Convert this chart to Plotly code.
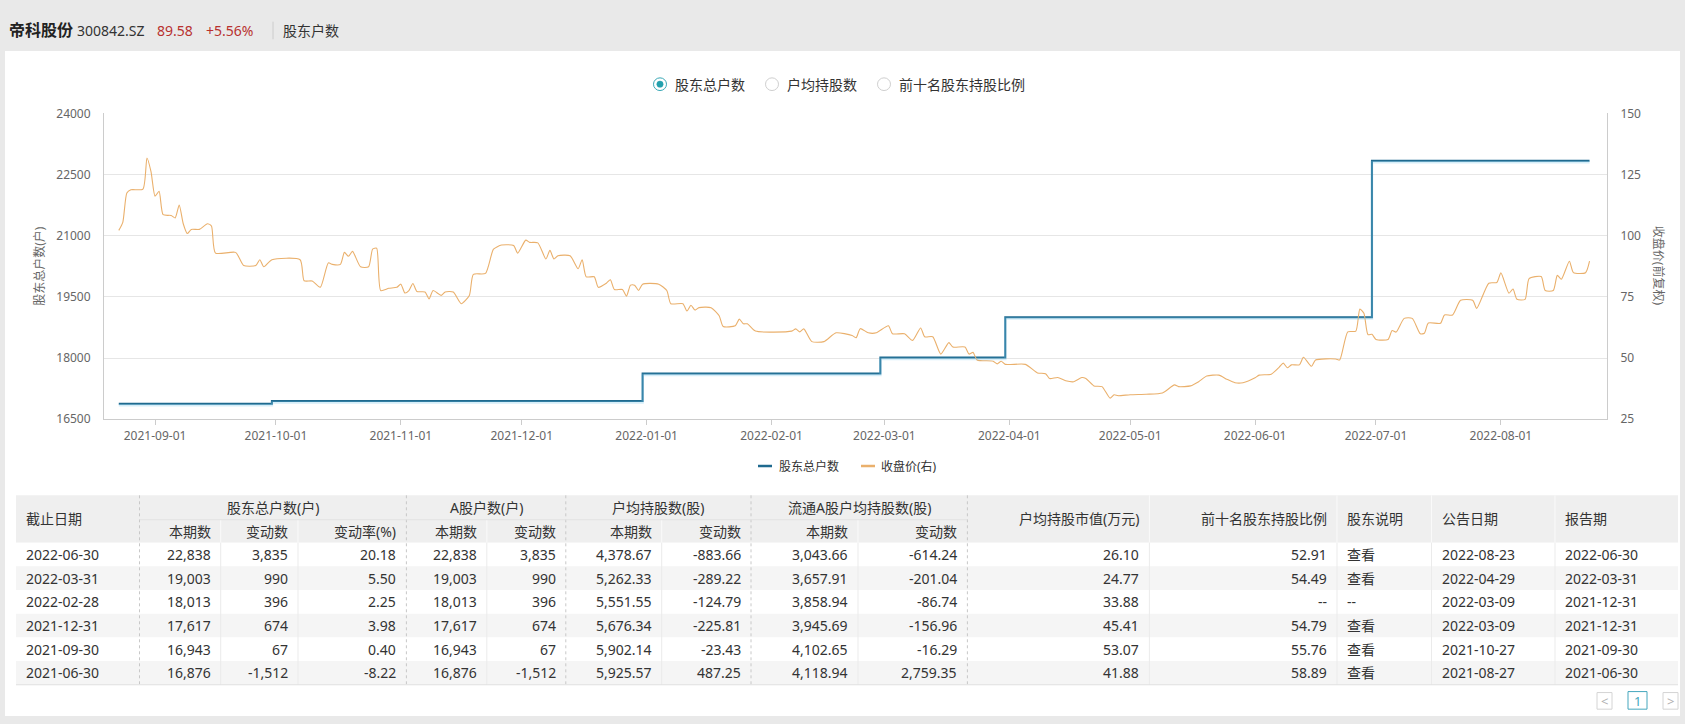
import plotly.graph_objects as go

W, H = 1685, 724

# ---------------- data ----------------
price_dates = [
    "2021-08-23", "2021-08-24", "2021-08-25", "2021-08-26", "2021-08-29", "2021-08-30", "2021-08-31",
    "2021-09-01", "2021-09-02", "2021-09-03", "2021-09-05", "2021-09-06", "2021-09-07", "2021-09-08",
    "2021-09-09", "2021-09-10", "2021-09-12", "2021-09-14", "2021-09-15", "2021-09-16", "2021-09-21",
    "2021-09-23", "2021-09-26", "2021-09-27", "2021-09-28", "2021-09-30",
    "2021-10-07", "2021-10-08", "2021-10-10", "2021-10-12", "2021-10-14", "2021-10-15", "2021-10-17",
    "2021-10-18", "2021-10-19", "2021-10-20", "2021-10-22", "2021-10-24", "2021-10-25", "2021-10-26",
    "2021-10-27", "2021-10-29", "2021-10-31",
    "2021-11-01", "2021-11-02", "2021-11-03", "2021-11-04", "2021-11-05", "2021-11-07", "2021-11-08",
    "2021-11-09", "2021-11-11", "2021-11-12", "2021-11-14", "2021-11-16", "2021-11-18", "2021-11-19",
    "2021-11-22", "2021-11-24", "2021-11-26", "2021-11-29", "2021-11-30",
    "2021-12-02", "2021-12-03", "2021-12-05", "2021-12-07", "2021-12-08", "2021-12-09", "2021-12-10",
    "2021-12-13", "2021-12-15", "2021-12-16", "2021-12-17", "2021-12-19", "2021-12-20", "2021-12-22",
    "2021-12-23", "2021-12-24", "2021-12-26", "2021-12-27", "2021-12-28", "2021-12-29", "2021-12-30",
    "2021-12-31",
    "2022-01-04", "2022-01-06", "2022-01-07", "2022-01-10", "2022-01-11", "2022-01-12", "2022-01-13",
    "2022-01-14", "2022-01-17", "2022-01-19", "2022-01-20", "2022-01-23", "2022-01-24", "2022-01-25",
    "2022-01-26", "2022-01-28",
    "2022-02-06", "2022-02-07", "2022-02-08", "2022-02-09", "2022-02-11", "2022-02-14", "2022-02-17",
    "2022-02-21", "2022-02-22", "2022-02-23", "2022-02-25", "2022-02-27",
    "2022-03-02", "2022-03-03", "2022-03-06", "2022-03-08", "2022-03-10", "2022-03-11", "2022-03-13",
    "2022-03-15", "2022-03-17", "2022-03-18", "2022-03-21", "2022-03-22", "2022-03-23", "2022-03-24",
    "2022-03-28", "2022-03-29", "2022-03-30", "2022-03-31",
    "2022-04-05", "2022-04-08", "2022-04-10", "2022-04-11", "2022-04-13", "2022-04-15", "2022-04-17",
    "2022-04-19", "2022-04-20", "2022-04-22", "2022-04-24", "2022-04-26", "2022-04-27", "2022-04-28",
    "2022-05-01", "2022-05-05", "2022-05-09", "2022-05-12", "2022-05-13", "2022-05-16", "2022-05-18",
    "2022-05-20", "2022-05-23", "2022-05-25", "2022-05-27", "2022-05-29",
    "2022-06-01", "2022-06-02", "2022-06-05", "2022-06-07", "2022-06-08", "2022-06-09", "2022-06-10",
    "2022-06-12", "2022-06-13", "2022-06-15", "2022-06-16", "2022-06-21", "2022-06-22", "2022-06-24",
    "2022-06-26", "2022-06-27", "2022-06-28", "2022-06-29", "2022-06-30",
    "2022-07-01", "2022-07-04", "2022-07-05", "2022-07-06", "2022-07-08", "2022-07-10", "2022-07-12",
    "2022-07-13", "2022-07-14", "2022-07-17", "2022-07-18", "2022-07-20", "2022-07-22", "2022-07-25",
    "2022-07-26", "2022-07-29", "2022-07-31",
    "2022-08-01", "2022-08-03", "2022-08-04", "2022-08-05", "2022-08-07", "2022-08-08", "2022-08-11",
    "2022-08-12", "2022-08-14", "2022-08-15", "2022-08-16", "2022-08-18", "2022-08-19", "2022-08-22",
    "2022-08-23",
]
price_vals = [
    102.2, 105.5, 117.5, 118.8, 119.1, 131.8, 126.2,
    116.2, 118.2, 108.6, 108.3, 107.3, 112.6, 104.9, 100.9, 102.6, 102.6, 104.9, 104.0, 92.9, 93.2,
    87.8, 87.8, 90.2, 87.3, 90.2,
    90.2, 81.6, 81.5, 78.9, 88.9, 88.3, 88.3, 93.2, 91.6, 93.6, 87.3, 87.3, 94.5, 94.9, 77.6, 78.5, 78.9,
    80.2, 76.6, 77.6, 80.5, 77.2, 77.0, 74.2, 77.6, 75.6, 77.0, 77.0, 72.2, 75.6, 84.2, 84.6, 94.5,
    96.2, 96.0, 92.9,
    98.2, 97.3, 97.1, 90.5, 94.0, 90.5, 91.8, 91.8, 86.5, 90.2, 83.2, 83.2, 78.9, 80.6, 82.0, 78.0,
    78.0, 75.3, 79.8, 79.8, 77.6, 80.2,
    80.2, 77.6, 72.2, 72.2, 69.2, 71.6, 69.6, 70.6, 70.6, 67.3, 62.9, 63.2, 65.9, 64.0, 64.0, 61.0,
    61.0, 61.9, 60.7, 61.9, 56.7, 56.7, 60.3, 59.2, 58.3, 62.0, 60.3, 60.3,
    63.2, 59.9, 59.9, 57.2, 62.3, 58.7, 58.7, 51.6, 56.3, 54.5, 54.5, 51.6, 52.3, 49.2, 48.7, 47.6,
    48.7, 47.4,
    47.4, 43.9, 43.6, 41.6, 42.0, 40.7, 40.3, 42.0, 41.6, 38.6, 38.3, 33.6, 35.0, 34.6,
    35.0, 35.2, 35.7, 39.0, 38.3, 38.6, 40.3, 42.6, 43.0, 41.3, 39.9, 39.9,
    41.9, 43.0, 43.4, 46.3, 47.9, 46.0, 47.2, 47.2, 50.3, 46.6, 49.2, 49.6, 49.2, 60.7, 61.0, 70.0,
    68.3, 59.6, 59.7,
    57.6, 57.6, 61.2, 60.6, 66.2, 66.2, 59.9, 60.1, 64.3, 64.2, 67.6, 67.6, 73.6, 73.6, 70.3, 80.6, 80.9,
    84.8, 76.5, 78.2, 74.0, 74.0, 82.5, 83.3, 77.6, 77.6, 83.8, 82.2, 89.6, 84.9, 84.86, 89.58,
]

period_end = ["2022-06-30", "2022-03-31", "2022-02-28", "2021-12-31", "2021-09-30", "2021-06-30"]
holders = [22838, 19003, 18013, 17617, 16943, 16876]
holders_chg = [3835, 990, 396, 674, 67, -1512]
holders_chg_pct = [20.18, 5.50, 2.25, 3.98, 0.40, -8.22]
a_holders = [22838, 19003, 18013, 17617, 16943, 16876]
a_holders_chg = [3835, 990, 396, 674, 67, -1512]
avg_shares = [4378.67, 5262.33, 5551.55, 5676.34, 5902.14, 5925.57]
avg_shares_chg = [-883.66, -289.22, -124.79, -225.81, -23.43, 487.25]
float_avg_shares = [3043.66, 3657.91, 3858.94, 3945.69, 4102.65, 4118.94]
float_avg_shares_chg = [-614.24, -201.04, -86.74, -156.96, -16.29, 2759.35]
avg_value = [26.10, 24.77, 33.88, 45.41, 53.07, 41.88]
top10_ratio = [52.91, 54.49, None, 54.79, 55.76, 58.89]
holder_note = ["查看", "查看", "--", "查看", "查看", "查看"]
announce_date = ["2022-08-23", "2022-04-29", "2022-03-09", "2022-03-09", "2021-10-27", "2021-08-27"]
report_period = ["2022-06-30", "2022-03-31", "2021-12-31", "2021-12-31", "2021-09-30", "2021-06-30"]

x_tick_vals = ["2021-09-01", "2021-10-01", "2021-11-01", "2021-12-01", "2022-01-01", "2022-02-01",
               "2022-03-01", "2022-04-01", "2022-05-01", "2022-06-01", "2022-07-01", "2022-08-01"]
x_tick_text = list(x_tick_vals)
y_left_ticks = [16500, 18000, 19500, 21000, 22500, 24000]
y_right_ticks = [25, 50, 75, 100, 125, 150]

assert len(price_dates) == len(price_vals)

# ---------------- helpers ----------------
FONT = "Noto Sans, Noto Sans CJK SC, sans-serif"


def px(x):
    return x / W


def py(y):
    return 1 - y / H


shapes = []
annotations = []


def rect(x0, y0, x1, y1, fill=None, line=None, lw=1, dash=None, layer="below"):
    d = dict(type="rect", xref="paper", yref="paper", x0=px(x0), x1=px(x1), y0=py(y1), y1=py(y0),
             layer=layer, line=dict(width=0))
    if fill:
        d["fillcolor"] = fill
    if line:
        d["line"] = dict(color=line, width=lw)
        if dash:
            d["line"]["dash"] = dash
    shapes.append(d)


def seg(x0, y0, x1, y1, color, lw=1, dash=None, layer="above"):
    ln = dict(color=color, width=lw)
    if dash:
        ln["dash"] = dash
    shapes.append(dict(type="line", xref="paper", yref="paper", x0=px(x0), x1=px(x1),
                       y0=py(y0), y1=py(y1), line=ln, layer=layer))


def circle(cx, cy, r, fill, line, lw=1):
    shapes.append(dict(type="circle", xref="paper", yref="paper", x0=px(cx - r), x1=px(cx + r),
                       y0=py(cy + r), y1=py(cy - r), fillcolor=fill, line=dict(color=line, width=lw),
                       layer="above"))


def txt(x, y, s, size=14, color="#333", anchor="left", angle=0, family=FONT):
    annotations.append(dict(x=px(x), y=py(y), xref="paper", yref="paper", text=s, showarrow=False,
                            xanchor=anchor, yanchor="middle", textangle=angle,
                            font=dict(size=size, color=color, family=family), borderpad=0))


def fmt_int(v):
    return f"{v:,}"


def fmt_f(v):
    return "--" if v is None else f"{v:,.2f}"


# ---------------- page frame ----------------
rect(5, 43, 1680, 724, fill="white")

# header bar
txt(8, 22, "<b>帝科股份</b>", size=16, color="#222")
txt(76, 22, "300842.SZ", size=14, color="#333")
txt(156, 22, "89.58", size=14, color="#b8312f")
txt(205, 22, "+5.56%", size=14, color="#b8312f")
seg(273, 13, 273, 31, "#cccccc")
txt(282, 22, "股东户数", size=14, color="#333")

# radio selector
radio = [(660, "股东总户数", True), (772, "户均持股数", False), (884, "前十名股东持股比例", False)]
for cx, label, on in radio:
    if on:
        circle(cx, 77, 6.5, "white", "#38a7b5", 1)
        circle(cx, 77, 3.2, "#23a0ad", "#23a0ad", 0.5)
    else:
        circle(cx, 77, 6.5, "white", "#cfcfcf", 1)
    txt(cx + 14, 77, label, size=14, color="#333")

# axis titles
txt(40, 263, "股东总户数(户)", size=12, color="#666", anchor="center", angle=-90)
txt(1658, 263, "收盘价(前复权)", size=12, color="#666", anchor="center", angle=90)

# bottom legend
seg(758, 468, 772, 468, "#1f6a8f", lw=2.5)
txt(778, 468, "股东总户数", size=12, color="#333")
seg(861, 468, 875, 468, "#eab06c", lw=2.5)
txt(880, 468, "收盘价(右)", size=12, color="#333")

# ---------------- table ----------------
cols = [16, 139.5, 220.7, 298, 406.4, 486.8, 565.8, 661.7, 751, 858, 967.4, 1149.4, 1337, 1431.5, 1555, 1678]
T_TOP, T_MID, T_HEAD = 498, 523, 546.5
ROW_H = 24.25
n_rows = len(period_end)
T_BOT = T_HEAD + ROW_H * n_rows

rect(cols[0], T_TOP, cols[-1], T_HEAD, fill="#efefef")
for i in range(n_rows):
    y0 = T_HEAD + i * ROW_H
    rect(cols[0], y0, cols[-1], y0 + ROW_H, fill="white" if i % 2 == 0 else "#f5f5f5")

for xs in [cols[2], cols[3], cols[5], cols[7], cols[9]]:
    seg(xs, T_MID, xs, T_HEAD, "#fafafa", layer="below")
    seg(xs, T_HEAD, xs, T_BOT, "#ebebeb", layer="below")
for xs in [cols[11], cols[12], cols[13], cols[14]]:
    seg(xs, T_TOP, xs, T_HEAD, "#fafafa", layer="below")
    seg(xs, T_HEAD, xs, T_BOT, "#ebebeb", layer="below")
for xs in [cols[1], cols[4], cols[6], cols[8], cols[10]]:
    seg(xs, T_TOP, xs, T_BOT, "#c8c8c8", dash="dot", layer="below")
seg(cols[1], T_MID, cols[10], T_MID, "#e2e2e2", layer="below")
seg(cols[0], T_BOT, cols[-1], T_BOT, "#e0e0e0", layer="below")

PAD = 9
TS = 14
yh1 = (T_TOP + T_MID) / 2
yh2 = (T_MID + T_HEAD) / 2
yhc = (T_TOP + T_HEAD) / 2
txt(cols[0] + PAD, yhc, "截止日期", size=TS)
groups = [("股东总户数(户)", 1, 4), ("A股户数(户)", 4, 6), ("户均持股数(股)", 6, 8), ("流通A股户均持股数(股)", 8, 10)]
for label, a, b in groups:
    txt((cols[a] + cols[b]) / 2, yh1, label, size=TS, anchor="center")
sub = ["本期数", "变动数", "变动率(%)", "本期数", "变动数", "本期数", "变动数", "本期数", "变动数"]
for k, label in enumerate(sub):
    txt(cols[k + 2] - PAD, yh2, label, size=TS, anchor="right")
txt(cols[11] - PAD, yhc, "户均持股市值(万元)", size=TS, anchor="right")
txt(cols[12] - PAD, yhc, "前十名股东持股比例", size=TS, anchor="right")
txt(cols[12] + PAD, yhc, "股东说明", size=TS)
txt(cols[13] + PAD, yhc, "公告日期", size=TS)
txt(cols[14] + PAD, yhc, "报告期", size=TS)

for i in range(n_rows):
    yc = T_HEAD + (i + 0.5) * ROW_H
    txt(cols[0] + PAD, yc, period_end[i], size=TS)
    right_vals = [fmt_int(holders[i]), fmt_int(holders_chg[i]), f"{holders_chg_pct[i]:.2f}",
                  fmt_int(a_holders[i]), fmt_int(a_holders_chg[i]),
                  fmt_f(avg_shares[i]), fmt_f(avg_shares_chg[i]),
                  fmt_f(float_avg_shares[i]), fmt_f(float_avg_shares_chg[i]),
                  fmt_f(avg_value[i]), fmt_f(top10_ratio[i])]
    for k, s in enumerate(right_vals):
        txt(cols[k + 2] - PAD, yc, s, size=TS, anchor="right")
    txt(cols[12] + PAD, yc, holder_note[i], size=TS)
    txt(cols[13] + PAD, yc, announce_date[i], size=TS)
    txt(cols[14] + PAD, yc, report_period[i], size=TS)

# pagination
rect(1597, 700, 1612, 717, line="#d4d4d4", layer="above")
txt(1604.5, 708.5, "&lt;", size=13, color="#b0b0b0", anchor="center")
rect(1628, 699, 1647, 717, line="#45a6bd", layer="above")
txt(1637.5, 708.5, "1", size=13, color="#45a6bd", anchor="center")
rect(1663, 700, 1678, 717, line="#d4d4d4", layer="above")
txt(1670.5, 708.5, "&gt;", size=13, color="#b0b0b0", anchor="center")

# ---------------- chart traces ----------------
steps = sorted(zip(period_end, holders))
start, end = price_dates[0], price_dates[-1]
base = [v for d, v in steps if d <= start][-1]
hx, hy = [start], [base]
for d, v in steps:
    if start < d <= end:
        hx.append(d)
        hy.append(v)
hx.append(end)
hy.append(hy[-1])

fig = go.Figure()
fig.add_trace(go.Scatter(x=hx, y=hy, mode="lines", yaxis="y3", hoverinfo="skip",
                         line=dict(color="rgba(120,200,235,0.3)", width=2.5, shape="hv")))
fig.add_trace(go.Scatter(x=hx, y=hy, mode="lines", name="股东总户数",
                         line=dict(color="#1f6a8f", width=2, shape="hv")))
fig.add_trace(go.Scatter(x=price_dates, y=price_vals, mode="lines", name="收盘价(右)", yaxis="y2",
                         line=dict(color="#eab06c", width=1.1, shape="spline", smoothing=0.6)))

L, R, TOP, BOT = 104, 1607, 107, 420
shift = 1.5 * (y_left_ticks[-1] - y_left_ticks[0]) / (BOT - TOP)

fig.update_layout(
    width=W, height=H, margin=dict(l=0, r=0, t=0, b=0),
    paper_bgcolor="#e9e9e9", plot_bgcolor="white",
    showlegend=False,
    font=dict(family=FONT, color="#666", size=12),
    xaxis=dict(domain=[px(L), px(R)], type="date", range=["2021-08-19 08:00", "2022-08-27 08:00"],
               tickvals=x_tick_vals, ticktext=x_tick_text, ticks="outside", ticklen=5,
               tickcolor="#cccccc", showline=True, linecolor="#cccccc", showgrid=False,
               tickfont=dict(size=12, color="#666"), zeroline=False, fixedrange=True),
    yaxis=dict(domain=[py(BOT), py(TOP)], range=[y_left_ticks[0], y_left_ticks[-1]],
               tickvals=y_left_ticks, ticktext=[str(v) for v in y_left_ticks],
               showline=True, linecolor="#cccccc", gridcolor="#e6e6e6", zeroline=False,
               tickfont=dict(size=12, color="#666"), ticklabelstandoff=10),
    yaxis2=dict(overlaying="y", side="right", anchor="x", range=[y_right_ticks[0], y_right_ticks[-1]],
                tickvals=y_right_ticks, showline=True, linecolor="#cccccc", showgrid=False,
                zeroline=False, tickfont=dict(size=12, color="#666"), ticklabelstandoff=10),
    yaxis3=dict(overlaying="y", range=[y_left_ticks[0] + shift, y_left_ticks[-1] + shift],
                visible=False),
    shapes=shapes, annotations=annotations,
)

fig.write_html(
    "out.html",
    config={"displayModeBar": False, "responsive": False},
    post_script="document.documentElement.style.margin='0';document.body.style.margin='0';"
                "document.body.style.padding='0';document.body.style.overflow='hidden';",
)
